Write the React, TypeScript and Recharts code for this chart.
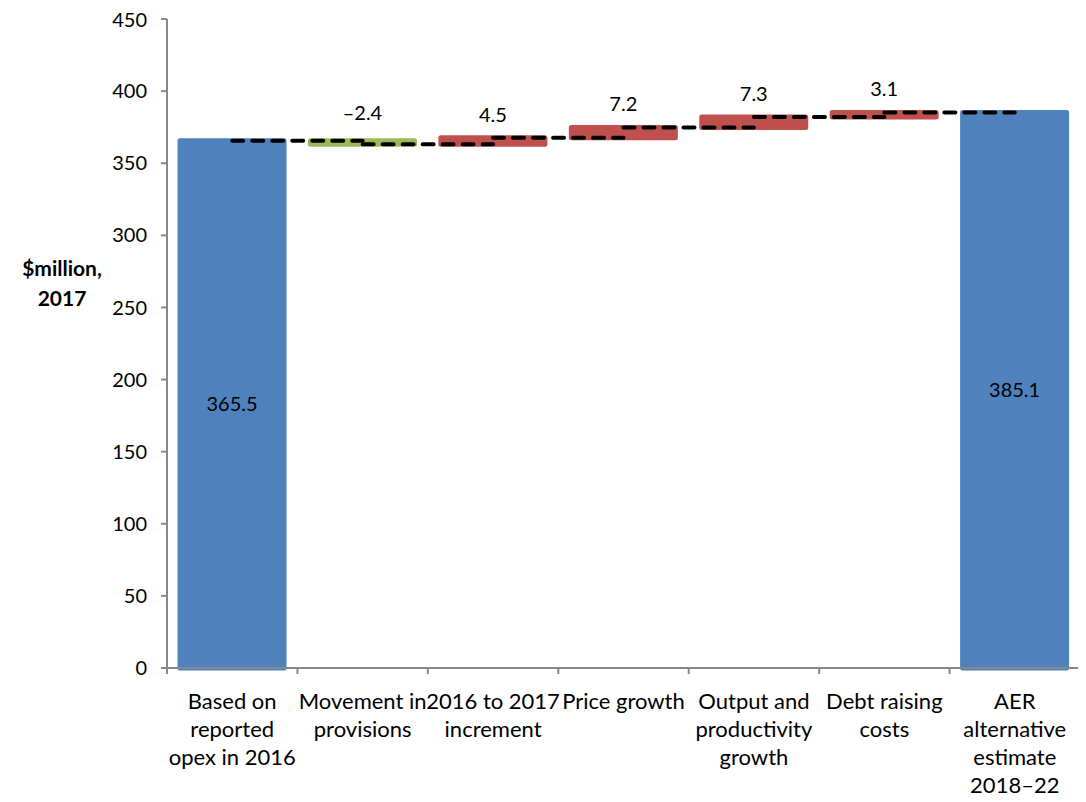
import { BarChart, Bar, XAxis, YAxis, Cell, LabelList, ReferenceLine } from 'recharts'

// Waterfall: opening opex, step adjustments, closing estimate
const categories = [
  'Based on\nreported\nopex in 2016',
  'Movement in\nprovisions',
  '2016 to 2017\nincrement',
  'Price growth',
  'Output and\nproductivity\ngrowth',
  'Debt raising\ncosts',
  'AER\nalternative\nestimate\n2018–22',
]
const openingValue = 365.5
const stepValues = [-2.4, 4.5, 7.2, 7.3, 3.1]
const closingValue = 385.1
const yTicks = [0, 50, 100, 150, 200, 250, 300, 350, 400, 450]

const BLUE = '#4F81BD'
const RED = '#C0504D'
const GREEN = '#9BBB59'
const FONT = 'Lato, "Open Sans", sans-serif'

interface Row {
  name: string
  range: [number, number]
  value: number
  level: number
  total: boolean
}

const rows: Row[] = (() => {
  const out: Row[] = [{ name: categories[0], range: [0, openingValue], value: openingValue, level: openingValue, total: true }]
  let running = openingValue
  stepValues.forEach((v, i) => {
    const next = Math.round((running + v) * 10) / 10
    out.push({ name: categories[i + 1], range: [Math.min(running, next), Math.max(running, next)], value: v, level: next, total: false })
    running = next
  })
  out.push({ name: categories[categories.length - 1], range: [0, closingValue], value: closingValue, level: closingValue, total: true })
  return out
})()

const barColor = (r: Row) => (r.total ? BLUE : r.value < 0 ? GREEN : RED)
const fmt = (v: number) => (v < 0 ? '\u2013' + Math.abs(v).toFixed(1) : v.toFixed(1))

const CategoryTick = (props: any) => {
  const { x, y, payload } = props
  const lines = String(payload.value).split('\n')
  const half = payload.offset ?? 0
  const axisY = y - 8
  return (
    <g>
      <line x1={x - half} x2={x - half} y1={axisY} y2={axisY + 6} stroke="#888" strokeWidth={2} />
      <text x={x} y={y + 33} textAnchor="middle" fontSize={22} fill="#000" fontFamily={FONT}>
        {lines.map((l, i) => (
          <tspan key={i} x={x} dy={i === 0 ? 0 : 28}>{l}</tspan>
        ))}
      </text>
    </g>
  )
}

const ValueLabel = (props: any) => {
  const { x, y, width, height, index } = props
  const row = rows[index]
  const cx = x + width / 2
  const top = Math.min(y, y + height)
  const cy = row.total ? y + height / 2 : top - (row.value < 0 ? 28 : 23)
  return (
    <text x={cx} y={cy} dy="0.35em" textAnchor="middle" fontSize={20} fill="#000" fontFamily={FONT}>
      {fmt(row.value)}
    </text>
  )
}

const YTitle = (props: any) => {
  const { viewBox } = props
  const cx = viewBox.x + 54
  const cy = viewBox.y + viewBox.height * 0.41
  return (
    <text x={cx} y={cy} textAnchor="middle" fontSize={21} fontWeight="bold" fill="#000" fontFamily={FONT}>
      <tspan x={cx} dy={-9}>$million,</tspan>
      <tspan x={cx} dy={30}>2017</tspan>
    </text>
  )
}

export default function App() {
  return (
    <div style={{ marginBottom: -8 }}>
      <BarChart
        width={1076}
        height={794}
        data={rows}
        margin={{ top: 11, right: 4, bottom: 0, left: 0 }}
        barCategoryGap="10%"
      >
        <XAxis
          dataKey="name"
          height={134}
          interval={0}
          axisLine={{ stroke: '#888', strokeWidth: 2 }}
          tickLine={false}
          tickSize={6}
          tickMargin={2}
          tick={<CategoryTick />}
        />
        <YAxis
          type="number"
          domain={[0, 450]}
          ticks={yTicks}
          width={159}
          axisLine={{ stroke: '#888', strokeWidth: 2 }}
          tickLine={{ stroke: '#888', strokeWidth: 2 }}
          tickSize={6}
          tickMargin={14}
          tick={{ fontSize: 20, fill: '#000', fontFamily: FONT }}
          label={{ position: 'insideLeft', content: <YTitle /> }}
        />
        <Bar dataKey="range" isAnimationActive={false}>
          {rows.map((r, i) => (
            <Cell key={`cell-${i}`} fill={barColor(r)} stroke={barColor(r)} strokeWidth={5} strokeLinejoin="round" />
          ))}
          <LabelList dataKey="value" content={<ValueLabel />} />
        </Bar>
        {rows.slice(0, -1).map((r, i) => (
          <ReferenceLine
            key={`step-${i}`}
            segment={[
              { x: r.name, y: r.level },
              { x: rows[i + 1].name, y: r.level },
            ]}
            stroke="#000"
            strokeWidth={4}
            strokeDasharray="11 9"
            strokeLinecap="round"
          />
        ))}
      </BarChart>
    </div>
  )
}
